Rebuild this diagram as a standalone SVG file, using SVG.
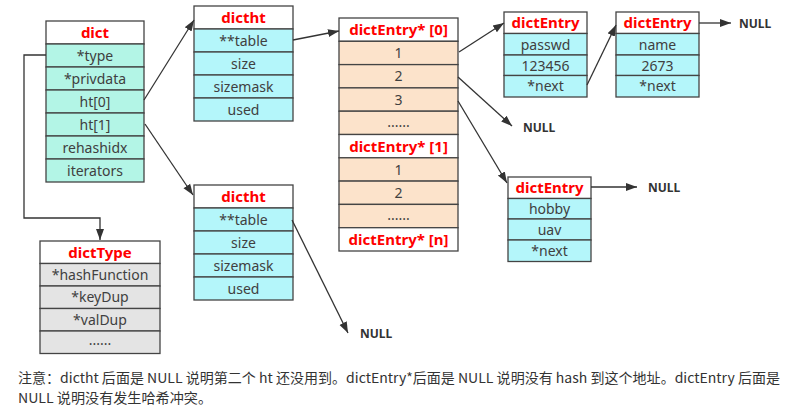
<svg xmlns="http://www.w3.org/2000/svg" width="794" height="412" viewBox="0 0 794 412">
<defs>
<marker id="arr" markerUnits="userSpaceOnUse" markerWidth="12" markerHeight="10" viewBox="0 0 12 10" refX="11" refY="5" orient="auto">
<path d="M0,1 L11,5 L0,9 Z" fill="#333"/>
</marker>
</defs>
<style>
.box{stroke:#444;stroke-width:1.3}
.hd{fill:#fff}
.t1{fill:#b3f5e6}
.t2{fill:#b4f6fa}
.pe{fill:#fce3cb}
.gr{fill:#e4e4e4}
.h{font-family:"Noto Sans","DejaVu Sans",sans-serif;font-size:15px;font-weight:bold;fill:#ff0000;text-anchor:middle}
.r{font-family:"Noto Sans","DejaVu Sans",sans-serif;font-size:14px;fill:#404040;text-anchor:middle}
.nl{font-family:"Noto Sans","DejaVu Sans",sans-serif;font-size:12px;font-weight:bold;fill:#333}
.ln{fill:none;stroke:#333;stroke-width:1.3;marker-end:url(#arr)}
.note{font-family:"Noto Sans CJK SC","Noto Sans",sans-serif;font-size:13.5px;fill:#333}
</style>
<rect width="794" height="412" fill="#fff"/>

<g id="dict">
<rect class="box hd" x="46" y="21" width="98" height="23"/>
<rect class="box t1" x="46" y="44" width="98" height="23"/>
<rect class="box t1" x="46" y="67" width="98" height="23"/>
<rect class="box t1" x="46" y="90" width="98" height="23"/>
<rect class="box t1" x="46" y="113" width="98" height="23"/>
<rect class="box t1" x="46" y="136" width="98" height="23"/>
<rect class="box t1" x="46" y="159" width="98" height="23"/>
<text class="h" x="95" y="38">dict</text>
<text class="r" x="95" y="60.5">*type</text>
<text class="r" x="95" y="83.5">*privdata</text>
<text class="r" x="95" y="106.5">ht[0]</text>
<text class="r" x="95" y="129.5">ht[1]</text>
<text class="r" x="95" y="152.5">rehashidx</text>
<text class="r" x="95" y="175.5">iterators</text>
</g>

<g id="dictht0">
<rect class="box hd" x="194" y="6" width="99" height="23"/>
<rect class="box t2" x="194" y="29" width="99" height="23"/>
<rect class="box t2" x="194" y="52" width="99" height="23"/>
<rect class="box t2" x="194" y="75" width="99" height="23"/>
<rect class="box t2" x="194" y="98" width="99" height="23"/>
<text class="h" x="243.5" y="23">dictht</text>
<text class="r" x="243.5" y="45.5">**table</text>
<text class="r" x="243.5" y="68.5">size</text>
<text class="r" x="243.5" y="91.5">sizemask</text>
<text class="r" x="243.5" y="114.5">used</text>
</g>

<g id="dictht1">
<rect class="box hd" x="194" y="185" width="99" height="23"/>
<rect class="box t2" x="194" y="208" width="99" height="23"/>
<rect class="box t2" x="194" y="231" width="99" height="23"/>
<rect class="box t2" x="194" y="254" width="99" height="23"/>
<rect class="box t2" x="194" y="277" width="99" height="23"/>
<text class="h" x="243.5" y="202">dictht</text>
<text class="r" x="243.5" y="224.5">**table</text>
<text class="r" x="243.5" y="247.5">size</text>
<text class="r" x="243.5" y="270.5">sizemask</text>
<text class="r" x="243.5" y="293.5">used</text>
</g>

<g id="dictType">
<rect class="box hd" x="40" y="241" width="120" height="22.5"/>
<rect class="box gr" x="40" y="263.5" width="120" height="22.5"/>
<rect class="box gr" x="40" y="286" width="120" height="22.5"/>
<rect class="box gr" x="40" y="308.5" width="120" height="22.5"/>
<rect class="box gr" x="40" y="331" width="120" height="22.5"/>
<text class="h" x="100" y="257.5">dictType</text>
<text class="r" x="100" y="279.5">*hashFunction</text>
<text class="r" x="100" y="302">*keyDup</text>
<text class="r" x="100" y="324.5">*valDup</text>
<text class="r" x="100" y="345">......</text>
</g>

<g id="entryArray">
<rect class="box hd" x="339" y="18" width="119" height="23.3"/>
<rect class="box pe" x="339" y="41.3" width="119" height="23.3"/>
<rect class="box pe" x="339" y="64.6" width="119" height="23.3"/>
<rect class="box pe" x="339" y="87.9" width="119" height="23.3"/>
<rect class="box pe" x="339" y="111.2" width="119" height="23.3"/>
<rect class="box hd" x="339" y="134.5" width="119" height="23.3"/>
<rect class="box pe" x="339" y="157.8" width="119" height="23.3"/>
<rect class="box pe" x="339" y="181.1" width="119" height="23.3"/>
<rect class="box pe" x="339" y="204.4" width="119" height="23.3"/>
<rect class="box hd" x="339" y="227.7" width="119" height="23.3"/>
<text class="h" x="398.5" y="35">dictEntry* [0]</text>
<text class="r" x="398.5" y="58">1</text>
<text class="r" x="398.5" y="81.3">2</text>
<text class="r" x="398.5" y="104.6">3</text>
<text class="r" x="398.5" y="127">......</text>
<text class="h" x="398.5" y="151.5">dictEntry* [1]</text>
<text class="r" x="398.5" y="174.5">1</text>
<text class="r" x="398.5" y="197.8">2</text>
<text class="r" x="398.5" y="220">......</text>
<text class="h" x="398.5" y="244.7">dictEntry* [n]</text>
</g>

<g id="entryPasswd">
<rect class="box hd" x="504" y="12" width="83" height="21.5"/>
<rect class="box t2" x="504" y="33.5" width="83" height="21.5"/>
<rect class="box t2" x="504" y="55" width="83" height="20.5"/>
<rect class="box t2" x="504" y="75.5" width="83" height="21.5"/>
<text class="h" x="545.5" y="28">dictEntry</text>
<text class="r" x="545.5" y="49.5">passwd</text>
<text class="r" x="545.5" y="70.5">123456</text>
<text class="r" x="545.5" y="91">*next</text>
</g>

<g id="entryName">
<rect class="box hd" x="616" y="12" width="83" height="21.5"/>
<rect class="box t2" x="616" y="33.5" width="83" height="21.5"/>
<rect class="box t2" x="616" y="55" width="83" height="20.5"/>
<rect class="box t2" x="616" y="75.5" width="83" height="21.5"/>
<text class="h" x="657.5" y="28">dictEntry</text>
<text class="r" x="657.5" y="49.5">name</text>
<text class="r" x="657.5" y="70.5">2673</text>
<text class="r" x="657.5" y="91">*next</text>
</g>

<g id="entryHobby">
<rect class="box hd" x="508" y="177" width="83" height="21.5"/>
<rect class="box t2" x="508" y="198.5" width="83" height="20.5"/>
<rect class="box t2" x="508" y="219" width="83" height="21"/>
<rect class="box t2" x="508" y="240" width="83" height="21.5"/>
<text class="h" x="549.5" y="193">dictEntry</text>
<text class="r" x="549.5" y="214">hobby</text>
<text class="r" x="549.5" y="234.5">uav</text>
<text class="r" x="549.5" y="255.5">*next</text>
</g>

<g id="nulls">
<text class="nl" x="739" y="27.5">NULL</text>
<text class="nl" x="523" y="131.5">NULL</text>
<text class="nl" x="648" y="191.5">NULL</text>
<text class="nl" x="360" y="338">NULL</text>
</g>

<g id="connectors">
<path class="ln" d="M144,100 L194,20"/>
<path class="ln" d="M145,124 L193,195"/>
<path class="ln" d="M46,55 L24,55 L24,218 L100,218 L100,240"/>
<path class="ln" d="M293,40 L339,31"/>
<path class="ln" d="M292,220 L348,333"/>
<path class="ln" d="M459,52 L504,23"/>
<path class="ln" d="M458,77 L512,126"/>
<path class="ln" d="M458,101 L507,183"/>
<path class="ln" d="M587,85 L616,25"/>
<path class="ln" d="M699,23 L731,23"/>
<path class="ln" d="M591,187 L637,187"/>
</g>

<g id="note">
<text class="note" x="18" y="383" textLength="762" lengthAdjust="spacingAndGlyphs">注意：dictht 后面是 NULL 说明第二个 ht 还没用到。dictEntry*后面是 NULL 说明没有 hash 到这个地址。dictEntry 后面是</text>
<text class="note" x="18" y="403" textLength="194" lengthAdjust="spacingAndGlyphs">NULL 说明没有发生哈希冲突。</text>
</g>
</svg>
